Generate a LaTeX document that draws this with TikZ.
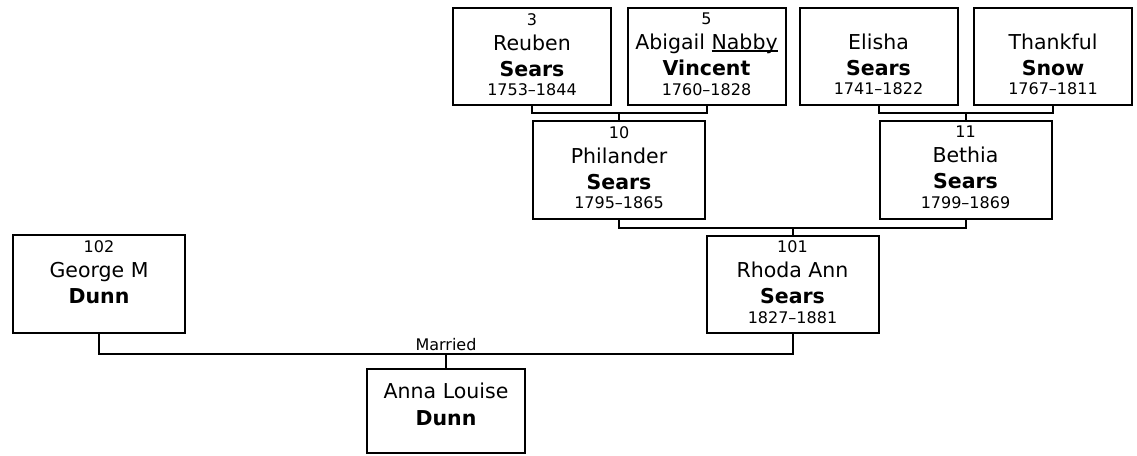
\documentclass[tikz,border=0pt]{standalone}
\usepackage{fontspec}
\setmainfont{DejaVu Sans}
\usetikzlibrary{positioning}
\newsavebox\nickbox
\newcommand{\nick}[1]{\sbox\nickbox{#1}\rlap{\rule[-1.8pt]{\wd\nickbox}{1.2pt}}\usebox\nickbox}
\newcommand{\smf}{\fontsize{16}{19}\selectfont}
\newcommand{\numstrut}{\rule{0pt}{11pt}}
\tikzset{
  indi/.style={draw=black, line width=2pt, fill=white, inner sep=0pt},
  gen/.style={indi, minimum width=158pt, minimum height=97pt},
  pbox/.style={indi, minimum width=172pt, minimum height=98pt},
  who/.style={align=center, inner sep=0pt, font=\fontsize{20.5}{25}\selectfont},
  ln/.style={draw=black, line width=2pt},
  lbl/.style={font=\smf, inner sep=2pt},
}

\begin{document}
\begin{tikzpicture}[x=1pt, y=-1pt]
\path[use as bounding box, fill=white] (0,0) rectangle (1137,455);

% great-grandparents
\node[gen] (reu) at (532,56.5) {};
\node[who, below=6pt of reu.north] {{\smf\numstrut 3}\\ Reuben\\[1pt] \textbf{Sears}\\[-5.5pt] {\smf 1753–1844}};
\node[gen] (abi) at (706.5,56.5) {};
\node[who, below=6pt of abi.north] {{\smf\numstrut 5}\\ Abigail \nick{Nabby}\\[1pt] \textbf{Vincent}\\[-5.5pt] {\smf 1760–1828}};
\node[gen] (eli) at (878.5,56.5) {};
\node[who, below=6pt of eli.north] {{\smf\numstrut}\\ Elisha\\[1pt] \textbf{Sears}\\[-5.5pt] {\smf 1741–1822}};
\node[gen] (tha) at (1053,56.5) {};
\node[who, below=6pt of tha.north] {{\smf\numstrut}\\ Thankful\\[1pt] \textbf{Snow}\\[-5.5pt] {\smf 1767–1811}};

% grandparents
\node[pbox] (phi) at (619,170) {};
\node[who, below=6pt of phi.north] {{\smf\numstrut 10}\\ Philander\\[1pt] \textbf{Sears}\\[-5.5pt] {\smf 1795–1865}};
\node[pbox] (bet) at (965.5,170) {};
\node[who, below=6pt of bet.north] {{\smf\numstrut 11}\\ Bethia\\[1pt] \textbf{Sears}\\[-5.5pt] {\smf 1799–1869}};

% parents
\node[pbox] (geo) at (99,284) {};
\node[who, below=6pt of geo.north] {{\smf\numstrut 102}\\ George M\\[1pt] \textbf{Dunn}};
\node[pbox, minimum height=97pt] (rho) at (792.5,284) {};
\node[who, below=6pt of rho.north] {{\smf\numstrut 101}\\ Rhoda Ann\\[1pt] \textbf{Sears}\\[-5.5pt] {\smf 1827–1881}};

% child
\node[indi, minimum width=158pt, minimum height=84pt] (ann) at (446,411) {};
\node[who, below=14.5pt of ann.north] {\rule{0pt}{15pt}Anna Louise\\[2pt] \textbf{Dunn}};

% couples
\draw[ln] (reu.south) -- ++(0pt,-7pt) -| (abi.south);
\draw[ln] (phi.north) -- ++(0pt,7pt);
\draw[ln] (eli.south) -- ++(0pt,-7pt) -| (tha.south);
\draw[ln] (bet.north) -- ++(0pt,7pt);
\draw[ln] (phi.south) -- ++(0pt,-8pt) -| (bet.south);
\draw[ln] (rho.north) -- ++(0pt,7pt);
\draw[ln] (geo.south) -- ++(0pt,-20pt) -| (rho.south);
\draw[ln] (ann.north) -- ++(0pt,14pt) node[lbl, above] {Married};

\end{tikzpicture}
\end{document}
